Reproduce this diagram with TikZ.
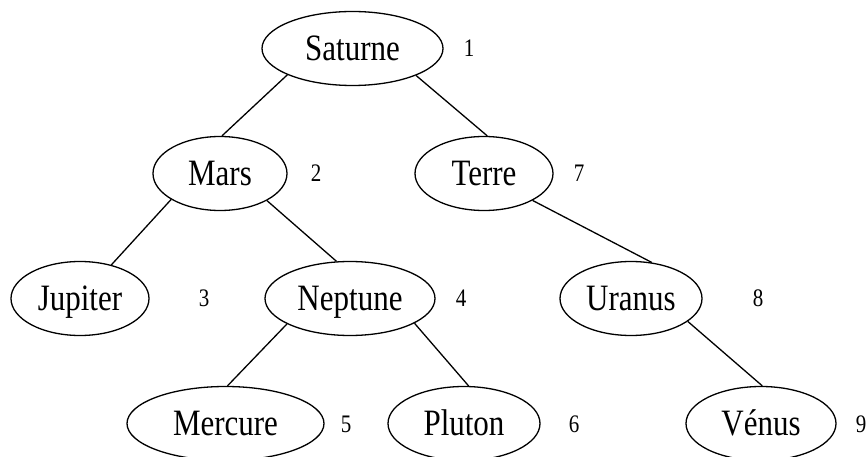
\documentclass[tikz,border=0pt]{standalone}
\usepackage{fontspec}
\usepackage{graphicx}
\setmainfont{Liberation Serif}
\usetikzlibrary{shapes.geometric}
\newcommand{\tallname}[1]{\scalebox{1}[1.2]{#1}}
\begin{document}
\begin{tikzpicture}[x=1pt,y=-1pt,
  planet/.style={ellipse, draw, line width=1.3pt, inner sep=0pt, minimum height=74pt,
    font=\fontsize{31}{31}\selectfont, text height=24.6pt, text depth=0pt},
  rank/.style={font=\fontsize{21}{21}\selectfont, inner sep=0pt, text height=17pt, text depth=0pt},
  edge/.style={line width=1.3pt}]
\useasboundingbox (0,0) rectangle (868,457);
\node[planet, minimum width=181pt] (sat) at (352.5,48.5) {\tallname{Saturne}};
\node[planet, minimum width=134pt] (mars) at (220,173.5) {\tallname{Mars}};
\node[planet, minimum width=138pt] (terre) at (484,173.5) {\tallname{Terre}};
\node[planet, minimum width=138pt] (jup) at (80,298.5) {\tallname{Jupiter}};
\node[planet, minimum width=170pt] (nep) at (350,298.5) {\tallname{Neptune}};
\node[planet, minimum width=142pt] (ura) at (631,298.5) {\tallname{Uranus}};
\node[planet, minimum width=197pt] (mer) at (225.5,423.5) {\tallname{Mercure}};
\node[planet, minimum width=152pt] (plu) at (464,423.5) {\tallname{Pluton}};
\node[planet, minimum width=150pt] (ven) at (761,423.5) {\tallname{Vénus}};
\node[rank] (r1) at (469,48.5) {\tallname{1}};
\node[rank] (r2) at (316,173.5) {\tallname{2}};
\node[rank] (r7) at (579,173.5) {\tallname{7}};
\node[rank] (r3) at (204,298.5) {\tallname{3}};
\node[rank] (r4) at (461,298.5) {\tallname{4}};
\node[rank] (r8) at (758,298.5) {\tallname{8}};
\node[rank] (r5) at (346,423.5) {\tallname{5}};
\node[rank] (r6) at (574,423.5) {\tallname{6}};
\node[rank] (r9) at (861,423.5) {\tallname{9}};
\draw[edge] (sat.202.3) -- (mars.87);
\draw[edge] (sat.337.4) -- (terre.85.4);
\draw[edge] (mars.208.4) -- (jup.47.9);
\draw[edge] (mars.330.6) -- (nep.110.5);
\draw[edge] (terre.331.2) -- (ura.60.1);
\draw[edge] (nep.202.3) -- (mer.87.7);
\draw[edge] (nep.339.1) -- (plu.83.8);
\draw[edge] (ura.338) -- (ven.88.5);
\end{tikzpicture}
\end{document}
